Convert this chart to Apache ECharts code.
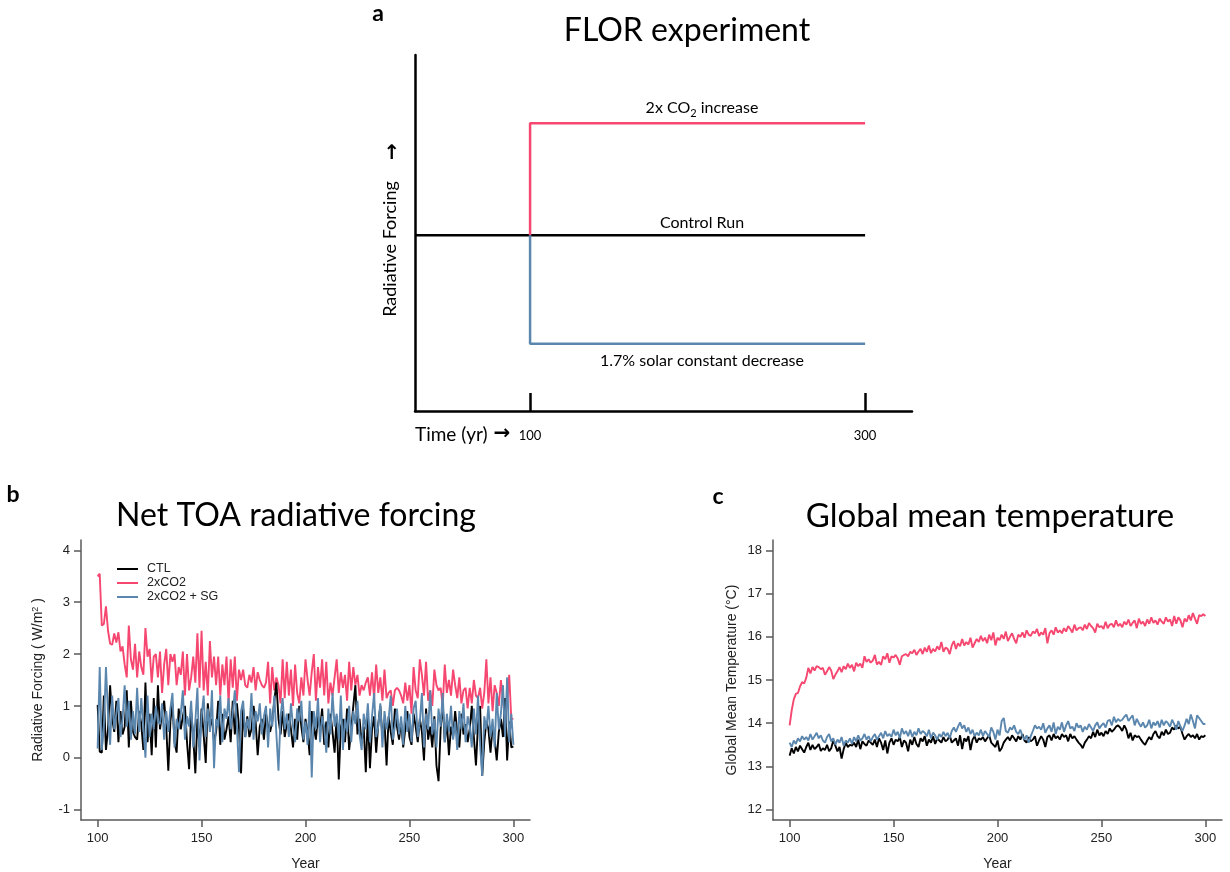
<!DOCTYPE html>
<html><head><meta charset="utf-8">
<script src="https://cdn.jsdelivr.net/npm/echarts@6/dist/echarts.min.js"></script>
<style>html,body{margin:0;padding:0;background:#fff}#c{width:1230px;height:872px}</style>
</head><body><div id="c"></div><script>
// ---------- DATA ----------
const years = [];
for (let y = 100; y <= 300; y++) years.push(y);

// Panel a (schematic levels)
const schemStart = 31.3, schemSwitch = 100, schemEnd = 300;
const levelControl = 0, levelCO2 = 1, levelSolar = -0.97;
const schemTicks = [100, 300];

// Panel b: Net TOA radiative forcing (W/m2)
const forcingCTL = [
 1.02,0.12,0.10,1.20,0.15,0.55,1.40,0.75,0.50,1.10,
 0.30,0.90,0.45,0.60,1.30,0.20,1.10,0.50,0.40,0.35,
 0.90,0.65,0.15,1.45,0.30,0.85,0.05,1.15,0.20,1.40,
 0.55,0.85,1.10,0.60,-0.25,0.70,1.05,0.30,0.10,0.95,
 0.55,0.80,1.00,0.30,-0.22,0.90,0.40,-0.30,0.75,0.20,
 0.95,0.45,-0.10,1.05,0.60,0.75,0.30,0.50,1.10,0.25,
 0.85,0.35,0.55,0.80,0.30,1.10,0.45,1.05,0.60,-0.30,
 0.95,0.40,0.80,0.40,0.55,1.00,0.70,0.05,0.60,0.75,
 0.35,0.85,0.60,0.50,0.70,1.10,1.45,0.75,0.45,0.90,
 0.40,0.65,0.85,0.55,0.20,0.75,0.35,1.00,0.60,0.30,
 0.75,0.50,0.05,0.90,0.60,0.35,0.80,0.55,0.95,0.25,
 0.70,0.20,0.85,0.50,0.10,0.80,-0.42,0.60,0.75,0.30,
 0.95,0.15,0.55,1.00,1.40,0.45,0.75,0.30,0.60,-0.28,
 0.85,-0.20,0.55,0.80,0.10,0.65,1.00,0.40,0.70,-0.15,
 0.80,0.50,0.25,0.95,0.60,0.35,0.70,0.20,0.55,0.90,
 0.40,0.25,0.85,0.60,0.30,0.75,0.50,-0.05,0.95,0.35,
 0.60,0.20,0.80,-0.15,-0.45,0.55,1.05,0.30,0.70,0.05,
 0.60,0.40,0.90,0.50,0.20,0.85,0.45,0.65,0.30,0.55,
 1.00,0.40,-0.15,0.65,1.00,-0.35,0.30,0.70,0.55,0.10,
 0.60,0.35,-0.05,0.50,0.75,0.40,1.15,-0.05,0.70,0.20,
 0.22];
const forcing2xCO2 = [
 3.50,3.55,2.55,2.58,2.92,2.45,2.20,2.18,2.40,2.22,
 2.42,2.05,2.15,1.80,1.55,2.55,1.90,1.70,2.20,1.55,
 2.05,1.75,1.60,2.50,1.95,2.10,1.45,1.95,2.00,1.55,
 2.05,1.25,1.80,2.10,1.40,2.00,1.85,2.00,1.40,1.75,
 1.60,2.05,1.20,2.00,1.30,1.55,1.95,1.45,2.40,1.35,
 2.45,1.30,1.85,1.20,2.25,1.55,1.95,1.40,1.95,1.20,
 1.80,1.40,1.95,1.05,1.90,1.35,1.95,1.10,1.70,1.50,
 1.70,1.40,1.35,1.60,1.45,1.75,1.30,1.65,1.50,1.40,
 1.35,1.45,1.85,1.05,1.75,1.30,1.55,1.40,1.05,1.90,
 1.15,1.85,1.20,1.70,1.00,1.80,1.25,1.05,1.55,1.20,
 1.90,1.50,1.20,1.65,2.00,1.10,1.75,1.35,1.90,1.20,
 1.85,1.05,1.45,1.20,1.55,1.90,1.25,1.65,1.35,1.60,
 1.10,1.85,1.30,1.75,1.40,1.60,1.20,1.40,1.30,1.45,
 1.55,1.20,1.65,1.15,1.80,1.25,1.55,1.10,1.70,1.15,
 1.25,1.30,1.00,1.30,1.35,1.30,1.20,1.05,1.45,1.10,
 1.40,0.85,1.75,1.30,1.15,1.90,1.60,1.20,1.85,1.10,
 1.30,1.00,1.70,1.40,1.30,1.35,1.00,1.80,1.25,1.50,
 1.20,1.70,1.40,1.15,1.55,1.05,1.30,1.35,0.95,1.35,
 1.05,1.50,1.20,1.15,1.35,0.95,1.25,1.90,1.05,1.55,
 0.90,1.40,1.25,1.00,1.50,1.10,0.75,1.05,1.60,0.75,
 0.75];
const forcingSG = [
 0.18,1.75,0.15,0.60,1.75,0.85,0.25,1.20,0.55,0.85,
 1.15,0.40,0.75,1.40,0.60,1.10,0.35,0.90,0.45,1.35,
 0.50,1.15,0.60,0.00,1.20,0.40,0.85,0.55,1.00,0.70,
 0.65,1.05,0.35,0.90,0.50,0.95,1.25,0.20,0.75,0.55,
 0.85,1.30,0.35,0.80,0.60,1.10,0.20,0.70,1.35,-0.05,
 0.80,1.20,0.40,0.95,0.50,1.30,-0.20,0.75,0.60,1.20,
 0.30,0.95,0.75,1.15,0.55,0.85,1.30,0.60,-0.28,0.90,
 1.10,0.40,0.75,0.55,1.25,0.35,0.90,0.70,1.05,0.45,
 0.80,1.00,0.20,0.95,0.60,1.20,0.45,-0.25,0.80,1.15,
 0.55,0.85,0.40,1.05,0.60,0.30,0.95,0.70,1.10,0.35,
 0.70,0.25,1.10,-0.38,0.90,0.55,1.15,0.30,0.80,0.60,
 0.10,0.95,0.45,1.25,0.60,0.85,0.35,1.20,0.15,0.75,
 0.50,1.00,0.30,0.90,0.65,1.10,0.45,0.15,0.85,0.55,
 1.05,0.30,0.80,1.25,0.40,0.60,1.05,0.20,0.90,0.55,
 0.75,1.20,0.35,0.60,0.95,0.45,0.80,0.25,1.00,0.50,
 0.85,0.30,0.95,1.10,0.40,0.70,1.25,0.20,0.85,0.55,
 1.30,0.45,0.75,0.20,0.95,0.60,1.25,0.30,0.85,0.50,
 1.00,0.35,0.70,0.15,0.90,0.55,1.05,0.30,0.80,0.60,
 0.20,0.95,0.45,1.20,0.25,-0.35,0.80,0.55,1.00,0.40,
 0.75,0.20,1.25,0.55,0.85,1.40,0.40,1.55,0.30,0.85,
 0.25];

// Panel c: Global mean temperature (deg C)
const tempCTL = [
 13.25,13.42,13.30,13.45,13.35,13.48,13.40,13.32,13.45,13.55,
 13.38,13.50,13.40,13.45,13.52,13.36,13.42,13.38,13.50,13.35,
 13.42,13.60,13.48,13.35,13.45,13.18,13.40,13.55,13.45,13.50,
 13.48,13.55,13.45,13.62,13.40,13.58,13.52,13.48,13.60,13.55,
 13.50,13.62,13.45,13.65,13.55,13.38,13.60,13.30,13.55,13.65,
 13.50,13.62,13.58,13.68,13.45,13.60,13.55,13.35,13.62,13.50,
 13.68,13.52,13.45,13.65,13.58,13.70,13.48,13.62,13.55,13.70,
 13.52,13.65,13.60,13.55,13.68,13.58,13.62,13.72,13.55,13.60,
 13.65,13.48,13.72,13.40,13.65,13.58,13.70,13.38,13.62,13.70,
 13.55,13.65,13.62,13.68,13.58,13.65,13.72,13.55,13.50,13.45,
 13.60,13.35,13.42,13.55,13.62,13.68,13.60,13.72,13.65,13.58,
 13.70,13.62,13.75,13.60,13.55,13.68,13.58,13.62,13.70,13.48,
 13.60,13.70,13.62,13.45,13.68,13.72,13.60,13.75,13.65,13.70,
 13.62,13.75,13.68,13.72,13.58,13.75,13.65,13.70,13.62,13.55,
 13.50,13.42,13.55,13.62,13.70,13.65,13.80,13.68,13.85,13.72,
 13.78,13.70,13.82,13.75,13.88,13.80,13.85,13.92,13.95,13.90,
 13.82,13.95,13.85,13.65,13.78,13.60,13.72,13.68,13.70,13.62,
 13.55,13.50,13.60,13.68,13.62,13.75,13.82,13.70,13.65,13.80,
 13.72,13.85,13.75,13.78,13.90,13.85,13.95,13.88,13.92,13.75,
 13.62,13.70,13.75,13.68,13.72,13.65,13.75,13.62,13.70,13.68,
 13.72];
const temp2xCO2 = [
 13.95,14.30,14.55,14.68,14.70,14.85,14.95,14.92,15.05,15.28,
 15.15,15.30,15.22,15.32,15.30,15.25,15.28,15.12,15.20,15.30,
 15.22,15.02,15.12,15.20,15.30,15.18,15.32,15.25,15.38,15.28,
 15.35,15.20,15.40,15.32,15.38,15.28,15.55,15.42,15.48,15.40,
 15.45,15.58,15.36,15.42,15.35,15.55,15.48,15.62,15.40,15.55,
 15.52,15.58,15.50,15.35,15.55,15.58,15.60,15.55,15.65,15.62,
 15.70,15.58,15.66,15.72,15.60,15.75,15.65,15.80,15.62,15.72,
 15.66,15.78,15.70,15.88,15.65,15.75,15.72,15.60,15.80,15.90,
 15.72,15.85,15.78,15.95,15.80,15.88,15.82,15.98,15.75,15.85,
 15.95,15.88,16.02,15.90,15.98,15.85,16.05,15.92,16.10,15.80,
 15.98,15.92,16.05,15.95,16.12,15.90,16.00,16.08,15.95,15.85,
 16.05,16.00,16.10,15.98,16.15,16.05,16.02,16.12,16.08,16.18,
 16.02,16.10,16.05,16.20,15.85,16.08,16.15,16.05,16.22,16.10,
 16.15,16.08,16.20,16.12,16.25,16.18,16.10,16.28,16.15,16.20,
 16.22,16.15,16.28,16.18,16.32,16.25,16.20,16.10,16.30,16.22,
 16.25,16.18,16.35,16.20,16.28,16.30,16.22,16.38,16.25,16.30,
 16.22,16.35,16.28,16.40,16.25,16.32,16.38,16.20,16.42,16.30,
 16.35,16.25,16.40,16.30,16.45,16.32,16.38,16.28,16.42,16.35,
 16.30,16.45,16.35,16.40,16.25,16.48,16.30,16.45,16.38,16.22,
 16.42,16.35,16.50,16.38,16.55,16.42,16.30,16.50,16.48,16.52,
 16.48];
const tempSG = [
 13.55,13.45,13.60,13.52,13.65,13.58,13.70,13.62,13.68,13.60,
 13.75,13.62,13.70,13.78,13.65,13.72,13.60,13.55,13.68,13.75,
 13.58,13.65,13.50,13.62,13.55,13.68,13.48,13.60,13.55,13.65,
 13.52,13.68,13.58,13.72,13.60,13.65,13.75,13.62,13.70,13.58,
 13.68,13.75,13.62,13.70,13.78,13.65,13.82,13.70,13.75,13.68,
 13.85,13.72,13.80,13.65,13.88,13.75,13.82,13.70,13.85,13.68,
 13.80,13.72,13.88,13.75,13.82,13.78,13.70,13.85,13.65,13.78,
 13.72,13.62,13.75,13.68,13.80,13.70,13.78,13.65,13.82,13.90,
 13.80,13.92,14.02,13.88,13.95,13.80,13.90,13.75,13.85,13.70,
 13.78,13.72,13.85,13.70,13.82,13.75,13.68,13.90,13.80,13.62,
 13.85,13.72,14.05,14.12,13.82,13.78,13.90,13.85,13.95,13.80,
 13.75,13.85,13.70,13.62,13.72,13.55,13.70,13.82,13.95,13.88,
 13.92,13.85,14.00,13.78,13.88,13.95,13.80,14.02,13.75,13.92,
 13.85,14.02,13.80,13.95,14.05,13.88,13.92,13.82,14.00,13.90,
 13.95,13.80,13.92,13.85,13.98,13.90,13.82,13.95,14.02,13.88,
 13.95,14.00,13.90,14.05,14.08,13.95,14.15,14.02,14.10,14.05,
 14.08,14.15,14.20,14.05,14.12,14.18,13.95,14.10,14.00,13.92,
 14.02,13.90,13.95,14.08,13.88,14.02,13.95,14.05,13.90,14.08,
 13.95,14.05,14.00,13.92,14.08,13.98,13.85,14.05,13.92,13.82,
 13.95,14.10,13.98,14.20,14.05,13.88,14.18,14.12,14.05,13.98,
 13.98];

const yearTicks = [100, 150, 200, 250, 300];
const forcingTicks = [-1, 0, 1, 2, 3, 4];
const tempTicks = [12, 13, 14, 15, 16, 17, 18];

// ---------- STYLE ----------
const RED = '#F5476F', BLUE = '#5B87AE', BLACK = '#000000';
const AX = '#5a5a5a';
const SANS = 'Liberation Sans, Arial, sans-serif';
const HUM = 'Lato, "Open Sans", sans-serif';

const pair = (vals) => vals.map((v, i) => [years[i], v]);

function dataAxisX(grid) {
  return {
    gridIndex: grid, type: 'value', min: 92, max: 308,
    axisLine: { onZero: false, lineStyle: { color: AX, width: 1.5 } },
    axisTick: { customValues: yearTicks, length: 7, lineStyle: { color: AX, width: 1.5 } },
    axisLabel: { customValues: yearTicks, margin: 12, fontSize: 13, color: '#222', fontFamily: SANS },
    splitLine: { show: false },
    name: 'Year', nameLocation: 'middle', nameGap: 37,
    nameTextStyle: { fontSize: 14, color: '#222', fontFamily: SANS }
  };
}
function dataAxisY(grid, min, max, ticks, name, gap) {
  return {
    gridIndex: grid, type: 'value', min: min, max: max,
    axisLine: { onZero: false, lineStyle: { color: AX, width: 1.5 } },
    axisTick: { customValues: ticks, length: 7, lineStyle: { color: AX, width: 1.5 } },
    axisLabel: { customValues: ticks, margin: 11, fontSize: 13, color: '#222', fontFamily: SANS },
    splitLine: { show: false },
    name: name, nameLocation: 'middle', nameGap: gap, nameRotate: 90,
    nameTextStyle: { fontSize: 14, color: '#222', fontFamily: SANS,
      rich: { sup: { fontSize: 9, color: '#222', fontFamily: SANS, lineHeight: 9, verticalAlign: 'top' } } }
  };
}
function line(name, grid, data, color, width) {
  return { name: name, type: 'line', xAxisIndex: grid, yAxisIndex: grid, data: data,
    showSymbol: false, symbol: 'none', lineStyle: { color: color, width: width }, itemStyle: { color: color },
    emphasis: { disabled: true }, animation: false };
}

const chart = echarts.init(document.getElementById('c'), null, { renderer: 'canvas' });
chart.setOption({
  backgroundColor: '#fff',
  animation: false,
  grid: [
    { left: 415, top: 55, width: 497, height: 356 },
    { left: 81, top: 540, width: 449, height: 283 },
    { left: 773, top: 540, width: 449, height: 283 }
  ],
  xAxis: [
    { gridIndex: 0, type: 'value', min: schemStart, max: 328,
      axisLine: { onZero: false, lineStyle: { color: '#000', width: 2.5 } },
      axisTick: { customValues: schemTicks, inside: true, length: 18, lineStyle: { color: '#000', width: 2.5 } },
      axisLabel: { customValues: schemTicks, margin: 18, fontSize: 13, color: '#000', fontFamily: HUM },
      splitLine: { show: false } },
    dataAxisX(1), dataAxisX(2)
  ],
  yAxis: [
    { gridIndex: 0, type: 'value', min: -1.57, max: 1.61,
      axisLine: { onZero: false, lineStyle: { color: '#000', width: 2.5 } },
      axisTick: { show: false }, axisLabel: { show: false }, splitLine: { show: false } },
    dataAxisY(1, -1.2, 4.2, forcingTicks, 'Radiative Forcing ( W/m{sup|2} )', 36),
    dataAxisY(2, 11.76, 18.24, tempTicks, 'Global Mean Temperature (\u00B0C)', 34)
  ],
  legend: {
    data: ['CTL', '2xCO2', '2xCO2 + SG'],
    orient: 'vertical', left: 112, top: 557,
    icon: 'rect', itemWidth: 21, itemHeight: 2, itemGap: 0,
    textStyle: { fontSize: 12.5, color: '#222', fontFamily: SANS, padding: [0, 0, 0, 4], lineHeight: 14 },
    selectedMode: false
  },
  series: [
    line('Control Run', 0, [[schemStart, levelControl], [schemEnd, levelControl]], BLACK, 2.5),
    line('2x CO2 increase', 0, [[schemSwitch, levelControl], [schemSwitch, levelCO2], [schemEnd, levelCO2]], RED, 2.5),
    line('Solar decrease', 0, [[schemSwitch, levelControl], [schemSwitch, levelSolar], [schemEnd, levelSolar]], BLUE, 2.5),
    line('2xCO2', 1, pair(forcing2xCO2), RED, 1.9),
    line('CTL', 1, pair(forcingCTL), BLACK, 1.9),
    line('2xCO2 + SG', 1, pair(forcingSG), BLUE, 1.9),
    line('2xCO2', 2, pair(temp2xCO2), RED, 1.9),
    line('CTL', 2, pair(tempCTL), BLACK, 1.9),
    line('2xCO2 + SG', 2, pair(tempSG), BLUE, 1.9)
  ],
  graphic: [
    { type: 'text', x: 378, y: 14, style: { text: 'a', font: 'bold 23px ' + HUM, fill: '#000', align: 'center', verticalAlign: 'middle' } },
    { type: 'text', x: 687, y: 31, style: { text: 'FLOR experiment', font: '32px ' + HUM, fill: '#000', align: 'center', verticalAlign: 'middle' } },
    { type: 'text', x: 390, y: 249, rotation: Math.PI / 2, style: { text: 'Radiative Forcing', font: '18px ' + HUM, fill: '#000', align: 'center', verticalAlign: 'middle' } },
    { type: 'text', x: 392, y: 154, style: { text: '\u2191', font: 'bold 20px "DejaVu Sans"', fill: '#000', align: 'center', verticalAlign: 'middle' } },
    { type: 'text', x: 702, y: 108, style: { text: '{n|2x CO}{s|2}{n| increase}', align: 'center', verticalAlign: 'middle',
        rich: { n: { fontSize: 16, fontFamily: HUM, fill: '#000', lineHeight: 22 },
                s: { fontSize: 11, fontFamily: HUM, fill: '#000', lineHeight: 12, verticalAlign: 'bottom' } } } },
    { type: 'text', x: 702, y: 223, style: { text: 'Control Run', font: '16px ' + HUM, fill: '#000', align: 'center', verticalAlign: 'middle' } },
    { type: 'text', x: 702, y: 361, style: { text: '1.7% solar constant decrease', font: '16px ' + HUM, fill: '#000', align: 'center', verticalAlign: 'middle' } },
    { type: 'text', x: 415, y: 435, style: { text: 'Time (yr)', font: '19px ' + HUM, fill: '#000', align: 'left', verticalAlign: 'middle' } },
    { type: 'text', x: 502, y: 434, style: { text: '\u2192', font: 'bold 20px "DejaVu Sans"', fill: '#000', align: 'center', verticalAlign: 'middle' } },
    { type: 'text', x: 13, y: 495, style: { text: 'b', font: 'bold 23px ' + HUM, fill: '#000', align: 'center', verticalAlign: 'middle' } },
    { type: 'text', x: 296, y: 516, style: { text: 'Net TOA radiative forcing', font: '32px ' + HUM, fill: '#000', align: 'center', verticalAlign: 'middle' } },
    { type: 'text', x: 718, y: 497, style: { text: 'c', font: 'bold 23px ' + HUM, fill: '#000', align: 'center', verticalAlign: 'middle' } },
    { type: 'text', x: 990, y: 516, style: { text: 'Global mean temperature', font: '33px ' + HUM, fill: '#000', align: 'center', verticalAlign: 'middle' } }
  ]
});
</script></body></html>
